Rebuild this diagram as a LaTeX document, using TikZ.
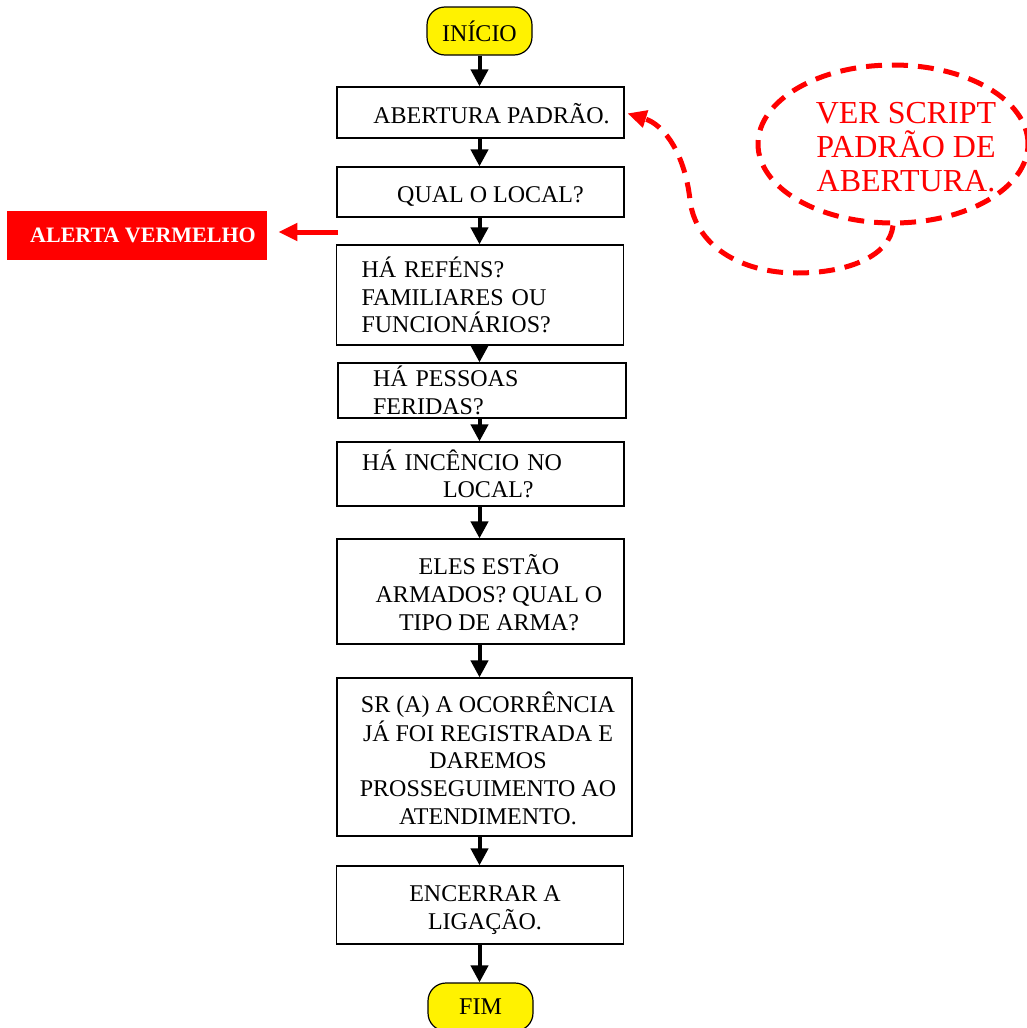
\documentclass[tikz,border=0pt]{standalone}
\usepackage{fontspec}
\setmainfont{Liberation Serif}
\usetikzlibrary{arrows.meta,shapes.geometric}
\newcommand{\linhas}[2]{\hspace*{#1}\raisebox{0pt}[\dimexpr\height+5pt\relax]{\begin{tabular}{@{}c@{}}#2\end{tabular}}}

\begin{document}
\begin{tikzpicture}[x=0.5pt,y=-0.5pt,
  caixa/.style={draw=black,line width=0.6pt,rectangle,minimum width=143.5pt,inner sep=0pt,font=\fontsize{12}{13.8}\selectfont},
  esquerda/.style={align=left,text width=118.5pt,inner xsep=12.5pt},
  terminal/.style={draw=black,line width=0.6pt,fill=yellow,rounded corners=9pt,minimum width=52.5pt,minimum height=24pt,font=\fontsize{12}{13.8}\selectfont},
  seta/.style={line width=2pt,-{Triangle[width=8.5pt,length=8.5pt]}},
  setavermelha/.style={red,line width=2.5pt,-{Triangle[width=8.5pt,length=9.5pt]}}]
\useasboundingbox (0,0) rectangle (1027,1028);
\fill[white] (0,0) rectangle (1027,1028);
% fluxo principal
\node[terminal] (inicio) at (479.5,31) {INÍCIO};
\node[caixa,minimum height=25.5pt] (abertura) at (480.5,112.5) {\linhas{11pt}{ABERTURA PADRÃO.}};
\node[caixa,minimum height=25pt] (local) at (480.5,192) {\linhas{10pt}{QUAL O LOCAL?}};
\node[caixa,esquerda,minimum height=50pt] (refens) at (480,295) {HÁ REFÉNS?\\FAMILIARES OU\\FUNCIONÁRIOS?};
\node[caixa,esquerda,text width=109pt,inner xsep=17.5pt,minimum height=27.5pt] (feridas) at (482,390.5) {HÁ PESSOAS\\FERIDAS?};
\node[caixa,esquerda,minimum height=32pt] (incendio) at (480.5,474) {HÁ INCÊNCIO NO\\\hspace*{40.5pt}LOCAL?};
\node[caixa,minimum height=52.5pt] (armados) at (480.5,591.5) {\linhas{8.5pt}{ELES ESTÃO\\ARMADOS? QUAL O\\TIPO DE ARMA?}};
\node[caixa,minimum width=147.5pt,minimum height=79pt] (registro) at (484.5,757) {\linhas{3.5pt}{SR (A) A OCORRÊNCIA\\JÁ FOI REGISTRADA E\\DAREMOS\\PROSSEGUIMENTO AO\\ATENDIMENTO.}};
\node[caixa,minimum height=39pt] (encerrar) at (480,905) {\linhas{5pt}{ENCERRAR A\\LIGAÇÃO.}};
\node[terminal] (fim) at (480.5,1007) {FIM};
\foreach \a/\b in {inicio/abertura,abertura/local,local/refens,refens/feridas,feridas/incendio,incendio/armados,armados/registro,registro/encerrar,encerrar/fim}
  \draw[seta] (\a.south -| inicio) -- (\b.north -| inicio);
% alerta
\node[fill=red,minimum width=130pt,minimum height=24.5pt,inner sep=0pt,text=white,font=\fontsize{11}{13}\selectfont\bfseries] (alerta) at (137,235.5) {\hspace*{6pt}ALERTA VERMELHO};
\coordinate (saida) at (338,232);
\draw[setavermelha,shorten >=5.5pt] (saida) -- (saida -| alerta.east);
% script de abertura
\node[ellipse,draw=red,line width=2.5pt,dash pattern=on 8pt off 5pt,minimum width=135pt,minimum height=79pt,inner sep=0pt,
  label={[red,align=center,font=\fontsize{16}{17}\selectfont,xshift=6.5pt,yshift=-1.5pt]center:VER SCRIPT\\PADRÃO DE\\ABERTURA.}] (script) at (893,144) {};
\draw[setavermelha,dash pattern=on 8pt off 5pt,shorten >=1.5pt] (script.south) .. controls (890,255) and (850,273) .. (797,273)
  .. controls (740,273) and (695,245) .. (690,200) .. controls (685,155) and (665,125) .. (abertura.east);
\end{tikzpicture}
\end{document}
